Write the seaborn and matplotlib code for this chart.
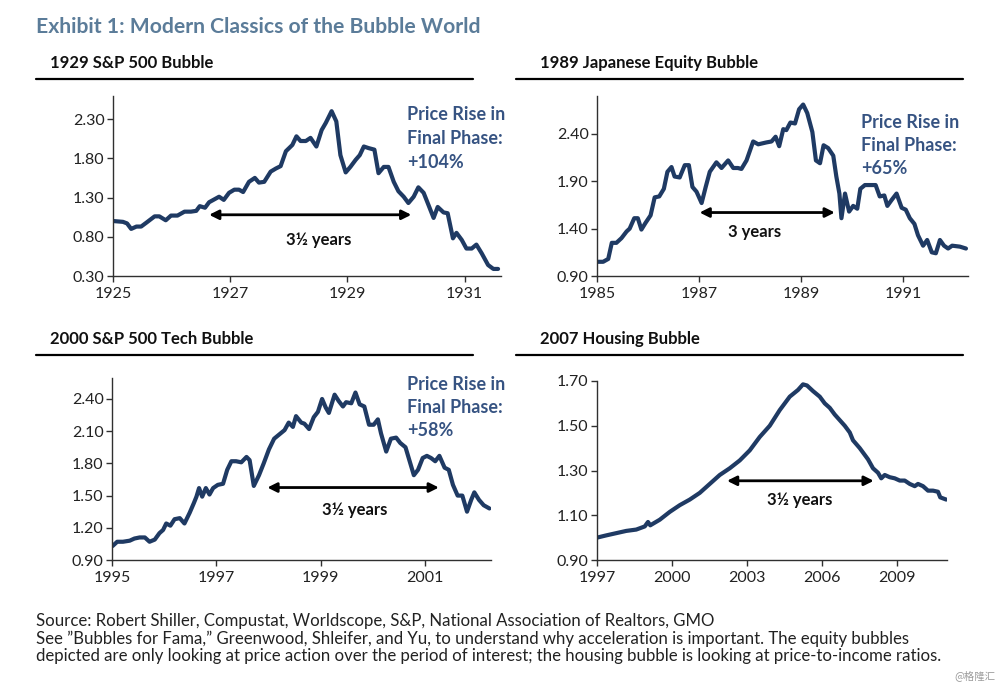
import matplotlib
matplotlib.use("Agg")
import matplotlib.pyplot as plt
import seaborn as sns
import pandas as pd
from matplotlib.lines import Line2D

# ---------------- data ----------------
sp1929_t = [1925.01, 1925.17, 1925.24, 1925.31, 1925.40, 1925.48, 1925.57, 1925.71, 1925.79, 1925.90,
            1925.99, 1926.10, 1926.22, 1926.33, 1926.42, 1926.48, 1926.57, 1926.64, 1926.81, 1926.89,
            1926.98, 1927.07, 1927.15, 1927.22, 1927.32, 1927.42, 1927.49, 1927.58, 1927.69, 1927.78,
            1927.86, 1927.95, 1928.06, 1928.13, 1928.20, 1928.29, 1928.37, 1928.47, 1928.56, 1928.63,
            1928.73, 1928.81, 1928.88, 1928.97, 1929.05, 1929.14, 1929.21, 1929.28, 1929.36, 1929.46,
            1929.53, 1929.62, 1929.70, 1929.79, 1929.87, 1929.96, 1930.04, 1930.13, 1930.21, 1930.30,
            1930.38, 1930.47, 1930.54, 1930.64, 1930.71, 1930.80, 1930.86, 1930.95, 1931.03, 1931.12,
            1931.20, 1931.29, 1931.40, 1931.49, 1931.57]
sp1929_v = [1.00, 0.99, 0.97, 0.90, 0.93, 0.93, 0.98, 1.06, 1.06, 1.01,
            1.07, 1.07, 1.12, 1.12, 1.13, 1.19, 1.17, 1.24, 1.31, 1.27,
            1.36, 1.40, 1.40, 1.37, 1.50, 1.55, 1.49, 1.50, 1.63, 1.67,
            1.70, 1.89, 1.97, 2.08, 2.02, 2.02, 2.06, 1.95, 2.16, 2.25,
            2.40, 2.27, 1.84, 1.62, 1.69, 1.78, 1.84, 1.95, 1.93, 1.91,
            1.61, 1.69, 1.69, 1.50, 1.38, 1.31, 1.23, 1.31, 1.43, 1.36,
            1.21, 1.04, 1.18, 1.11, 1.10, 0.78, 0.85, 0.76, 0.65, 0.65,
            0.70, 0.59, 0.44, 0.39, 0.39]

japan_t = [1985.02, 1985.12, 1985.22, 1985.29, 1985.38, 1985.48, 1985.58, 1985.64, 1985.73, 1985.80,
           1985.87, 1985.95, 1986.05, 1986.13, 1986.22, 1986.31, 1986.38, 1986.46, 1986.52, 1986.62,
           1986.72, 1986.80, 1986.87, 1986.95, 1987.05, 1987.13, 1987.21, 1987.34, 1987.44, 1987.57,
           1987.67, 1987.76, 1987.83, 1987.93, 1988.06, 1988.16, 1988.32, 1988.42, 1988.50, 1988.57,
           1988.65, 1988.71, 1988.79, 1988.88, 1988.96, 1989.04, 1989.12, 1989.22, 1989.29, 1989.37,
           1989.44, 1989.53, 1989.63, 1989.69, 1989.75, 1989.79, 1989.86, 1989.94, 1990.02, 1990.10,
           1990.16, 1990.25, 1990.35, 1990.46, 1990.54, 1990.63, 1990.69, 1990.77, 1990.87, 1990.97,
           1991.05, 1991.13, 1991.22, 1991.29, 1991.39, 1991.47, 1991.56, 1991.64, 1991.72, 1991.80,
           1991.88, 1991.96, 1992.11, 1992.23]
japan_v = [1.05, 1.05, 1.08, 1.25, 1.25, 1.30, 1.37, 1.40, 1.51, 1.51,
           1.39, 1.46, 1.54, 1.73, 1.74, 1.82, 2.00, 2.05, 1.95, 1.94,
           2.07, 2.07, 1.84, 1.79, 1.67, 1.84, 2.00, 2.10, 2.04, 2.12,
           2.04, 2.04, 2.03, 2.12, 2.32, 2.29, 2.31, 2.32, 2.37, 2.27,
           2.45, 2.44, 2.52, 2.51, 2.66, 2.71, 2.62, 2.42, 2.12, 2.09,
           2.28, 2.25, 2.17, 1.95, 1.77, 1.51, 1.77, 1.58, 1.64, 1.61,
           1.82, 1.86, 1.86, 1.86, 1.74, 1.75, 1.64, 1.70, 1.77, 1.62,
           1.60, 1.51, 1.45, 1.33, 1.22, 1.28, 1.15, 1.14, 1.28, 1.22,
           1.19, 1.22, 1.21, 1.19]

tech_t = [1995.01, 1995.10, 1995.21, 1995.34, 1995.43, 1995.53, 1995.63, 1995.72, 1995.82, 1995.91,
          1995.98, 1996.04, 1996.12, 1996.20, 1996.30, 1996.39, 1996.49, 1996.57, 1996.62, 1996.67,
          1996.73, 1996.80, 1996.87, 1996.94, 1997.03, 1997.13, 1997.21, 1997.29, 1997.38, 1997.48,
          1997.58, 1997.64, 1997.72, 1997.82, 1997.91, 1998.01, 1998.11, 1998.21, 1998.31, 1998.39,
          1998.47, 1998.53, 1998.63, 1998.69, 1998.78, 1998.87, 1998.95, 1999.03, 1999.10, 1999.16,
          1999.27, 1999.35, 1999.43, 1999.49, 1999.59, 1999.67, 1999.75, 1999.84, 1999.93, 2000.02,
          2000.10, 2000.16, 2000.26, 2000.35, 2000.45, 2000.53, 2000.63, 2000.71, 2000.79, 2000.87,
          2000.96, 2001.04, 2001.12, 2001.20, 2001.28, 2001.38, 2001.46, 2001.54, 2001.63, 2001.72,
          2001.81, 2001.89, 2001.95, 2002.04, 2002.13, 2002.24]
tech_v = [1.03, 1.07, 1.07, 1.08, 1.10, 1.11, 1.11, 1.07, 1.09, 1.15,
          1.18, 1.24, 1.22, 1.28, 1.29, 1.24, 1.34, 1.43, 1.49, 1.57,
          1.49, 1.57, 1.51, 1.57, 1.60, 1.61, 1.74, 1.82, 1.82, 1.81,
          1.86, 1.83, 1.59, 1.69, 1.80, 1.93, 2.03, 2.07, 2.11, 2.18,
          2.14, 2.24, 2.18, 2.17, 2.12, 2.23, 2.28, 2.40, 2.32, 2.27,
          2.44, 2.38, 2.33, 2.37, 2.36, 2.46, 2.35, 2.33, 2.16, 2.16,
          2.21, 2.08, 1.91, 2.03, 2.04, 1.99, 1.95, 1.82, 1.69, 1.74,
          1.85, 1.87, 1.85, 1.82, 1.87, 1.76, 1.74, 1.60, 1.50, 1.50,
          1.35, 1.46, 1.53, 1.46, 1.41, 1.38]

housing_t = [1997.00, 1997.37, 1997.77, 1998.17, 1998.57, 1998.91, 1999.04, 1999.13, 1999.51, 1999.91,
             2000.31, 2000.71, 2001.11, 2001.51, 2001.91, 2002.31, 2002.71, 2003.11, 2003.51, 2003.91,
             2004.31, 2004.71, 2005.04, 2005.24, 2005.40, 2005.64, 2005.91, 2006.11, 2006.31, 2006.51,
             2006.71, 2006.91, 2007.11, 2007.24, 2007.51, 2007.84, 2008.04, 2008.24, 2008.37, 2008.51,
             2008.71, 2008.91, 2009.11, 2009.31, 2009.51, 2009.71, 2009.84, 2010.04, 2010.24, 2010.44,
             2010.64, 2010.73, 2010.97]
housing_v = [1.00, 1.01, 1.02, 1.03, 1.036, 1.05, 1.07, 1.055, 1.08, 1.115,
             1.145, 1.17, 1.20, 1.24, 1.28, 1.31, 1.345, 1.39, 1.45, 1.50,
             1.57, 1.63, 1.66, 1.685, 1.68, 1.655, 1.63, 1.60, 1.58, 1.55,
             1.525, 1.50, 1.47, 1.435, 1.40, 1.35, 1.31, 1.29, 1.265, 1.28,
             1.27, 1.265, 1.255, 1.255, 1.24, 1.23, 1.24, 1.23, 1.21, 1.21,
             1.205, 1.18, 1.17]

panel_titles = ["1929 S&P 500 Bubble", "1989 Japanese Equity Bubble",
                "2000 S&P 500 Tech Bubble", "2007 Housing Bubble"]
price_rise = ["+104%", "+65%", "+58%", None]
span_labels = ["3½ years", "3 years", "3½ years", "3½ years"]
# arrow spans: (start, end, level) in data units
span_arrows = [(1926.64, 1930.09, 1.08), (1987.01, 1989.66, 1.57),
               (1997.98, 2001.27, 1.575), (2002.2, 2008.07, 1.254)]
span_text_pos = [(1928.51, 0.76), (1988.09, 1.36), (1999.65, 1.37), (2005.1, 1.17)]

yticks = [[0.30, 0.80, 1.30, 1.80, 2.30],
          [0.90, 1.40, 1.90, 2.40],
          [0.90, 1.20, 1.50, 1.80, 2.10, 2.40],
          [0.90, 1.10, 1.30, 1.50, 1.70]]
xticks = [[1925, 1927, 1929, 1931],
          [1985, 1987, 1989, 1991],
          [1995, 1997, 1999, 2001],
          [1997, 2000, 2003, 2006, 2009]]
ylims = [(0.30, 2.60), (0.90, 2.80), (0.90, 2.60), (0.90, 1.70)]
xlims = [(1925, 1931.62), (1985, 1992.27), (1995, 2002.27), (1997, 2011.0)]

series = [(sp1929_t, sp1929_v), (japan_t, japan_v), (tech_t, tech_v), (housing_t, housing_v)]

# ---------------- style ----------------
sns.set_theme(style="ticks")
plt.rcParams["font.family"] = ["Lato", "DejaVu Sans"]

LINE = "#1f3a63"
NOTE = "#365382"
TITLE = "#5b7c99"

W, H = 1000, 686
fig = plt.figure(figsize=(10, 6.86), dpi=100)
fig.patch.set_facecolor("white")


def fx(x):
    return x / W


def fy(y):
    return 1 - y / H


# axes boxes in pixel coords (left, top, right, bottom)
boxes = [(113, 95.5, 501, 276), (597, 96, 968, 276), (112, 377.5, 491, 560), (597, 381, 947, 560)]
title_xy = [(50, 63), (540, 63), (50, 339), (540, 339)]
rule_lines = [(36, 473, 79), (516, 963, 79), (36, 473, 355), (516, 963, 355)]
note_xy = [(407, 115), (861, 122), (407, 384), None]

for i in range(4):
    l, t, r, b = boxes[i]
    ax = fig.add_axes([fx(l), fy(b), fx(r) - fx(l), fy(t) - fy(b)])
    df = pd.DataFrame({"year": series[i][0], "value": series[i][1]})
    sns.lineplot(data=df, x="year", y="value", ax=ax, color=LINE, linewidth=3.0,
                 solid_capstyle="round", solid_joinstyle="round")
    ax.set_xlim(*xlims[i])
    ax.set_ylim(*ylims[i])
    ax.set_yticks(yticks[i])
    ax.set_yticklabels([f"{v:.2f}" for v in yticks[i]])
    ax.set_xticks(xticks[i])
    ax.set_xticklabels([str(v) for v in xticks[i]])
    ax.set_xlabel("")
    ax.set_ylabel("")
    for s in ["top", "right"]:
        ax.spines[s].set_visible(False)
    for s in ["left", "bottom"]:
        ax.spines[s].set_color("#303030")
        ax.spines[s].set_linewidth(1.0)
    ax.tick_params(axis="both", direction="out", length=4, width=1.0, color="#303030",
                   labelsize=11.5, labelcolor="#222222")
    ax.tick_params(axis="y", pad=2)
    ax.tick_params(axis="x", pad=4)
    ax.set_facecolor("white")

    # double-headed span arrow
    x0, x1, yv = span_arrows[i]
    ax.annotate("", xy=(x1, yv), xytext=(x0, yv),
                arrowprops=dict(arrowstyle="<|-|>", color="black", lw=2.0,
                                mutation_scale=14, shrinkA=0, shrinkB=0))
    tx, ty = span_text_pos[i]
    ax.text(tx, ty, span_labels[i], ha="center", va="center", fontsize=12,
            fontweight="bold", color="#111111")

    # panel title + rule
    fig.text(fx(title_xy[i][0]), fy(title_xy[i][1]), panel_titles[i], ha="left", va="center",
             fontsize=12, fontweight="bold", color="#111111")
    x_a, x_b, y_r = rule_lines[i]
    fig.add_artist(Line2D([fx(x_a), fx(x_b)], [fy(y_r), fy(y_r)], color="black", lw=1.6))

    if price_rise[i] is not None:
        nx, ny = note_xy[i]
        for k, txt in enumerate(["Price Rise in", "Final Phase:", price_rise[i]]):
            fig.text(fx(nx), fy(ny + 23.5 * k), txt, ha="left", va="center",
                     fontsize=13, fontweight="bold", color=NOTE)

fig.text(fx(36), fy(27), "Exhibit 1: Modern Classics of the Bubble World", ha="left", va="center",
         fontsize=15.2, fontweight="bold", color=TITLE)

footer = ["Source: Robert Shiller, Compustat, Worldscope, S&P, National Association of Realtors, GMO",
          "See \u201dBubbles for Fama,\u201d Greenwood, Shleifer, and Yu, to understand why acceleration is important. The equity bubbles",
          "depicted are only looking at price action over the period of interest; the housing bubble is looking at price-to-income ratios."]
for k, line in enumerate(footer):
    fig.text(fx(36), fy(621 + 17.5 * k), line, ha="left", va="center", fontsize=12.1,
             color="#222222")

fig.text(fx(995), fy(676), "@格隆汇", ha="right", va="center", fontsize=7.5, color="#9a9a9a",
         family=["Noto Sans CJK SC", "DejaVu Sans"])

fig.savefig("out.png", dpi=100, facecolor="white")
